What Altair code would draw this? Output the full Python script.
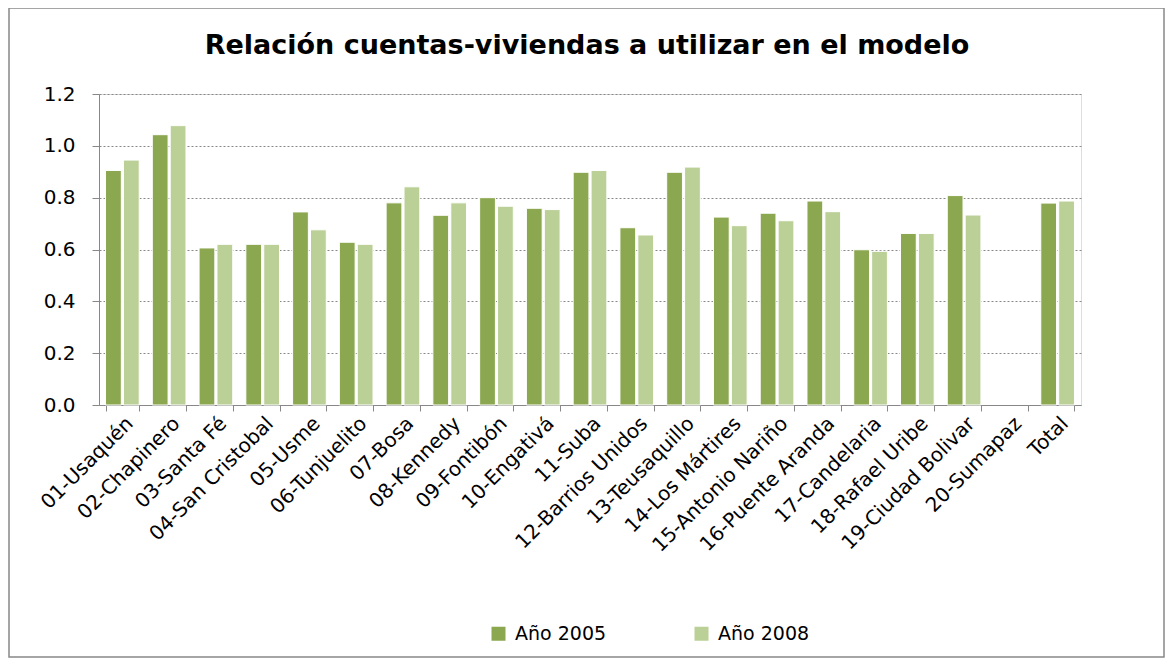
import altair as alt
import pandas as pd

categories = ["01-Usaquén", "02-Chapinero", "03-Santa Fé", "04-San Cristobal", "05-Usme",
              "06-Tunjuelito", "07-Bosa", "08-Kennedy", "09-Fontibón", "10-Engativá",
              "11-Suba", "12-Barrios Unidos", "13-Teusaquillo", "14-Los Mártires",
              "15-Antonio Nariño", "16-Puente Aranda", "17-Candelaria", "18-Rafael Uribe",
              "19-Ciudad Bolivar", "20-Sumapaz", "Total"]
series_names = ["Año 2005", "Año 2008"]
values_2005 = [0.905, 1.043, 0.606, 0.620, 0.745, 0.628, 0.780, 0.732, 0.800, 0.759,
               0.898, 0.684, 0.898, 0.725, 0.740, 0.787, 0.599, 0.662, 0.808, None, 0.779]
values_2008 = [0.945, 1.078, 0.620, 0.620, 0.676, 0.620, 0.842, 0.780, 0.767, 0.754,
               0.905, 0.656, 0.918, 0.692, 0.711, 0.746, 0.593, 0.662, 0.733, None, 0.787]
colors = ["#8ba74f", "#bbd097"]
title_text = "Relación cuentas-viviendas a utilizar en el modelo"

rows = []
for c, a, b in zip(categories, values_2005, values_2008):
    rows.append({"cat": c, "serie": series_names[0], "val": a})
    rows.append({"cat": c, "serie": series_names[1], "val": b})
df = pd.DataFrame(rows)

FONT = "DejaVu Sans"
W, H = 982, 311

bars = alt.Chart(df).mark_bar(stroke="white", strokeWidth=1).encode(
    x=alt.X("cat:N", sort=categories, title=None,
            scale=alt.Scale(paddingInner=0.28, paddingOuter=0.14),
            axis=alt.Axis(labelAngle=-45, labelFontSize=20, labelFont=FONT, labelColor="#000",
                          domainColor="#888", tickColor="#888", tickSize=6, tickBand="extent",
                          labelPadding=2, grid=False, labelLimit=300)),
    xOffset=alt.XOffset("serie:N", sort=series_names, scale=alt.Scale(paddingInner=0.12)),
    y=alt.Y("val:Q", title=None,
            scale=alt.Scale(domain=[0, 1.2], nice=False),
            axis=alt.Axis(values=[0, 0.2, 0.4, 0.6, 0.8, 1.0, 1.2], format=".1f",
                          labelFontSize=20, labelFont=FONT, labelColor="#000",
                          domainColor="#888", tickColor="#888", tickSize=7,
                          gridColor="#888", gridDash=[2, 2], labelPadding=17)),
    color=alt.Color("serie:N", sort=series_names,
                    scale=alt.Scale(domain=series_names, range=colors),
                    legend=alt.Legend(title=None, orient="none", legendX=390, legendY=530,
                                      direction="horizontal", symbolType="square",
                                      symbolSize=196, symbolStrokeWidth=0,
                                      labelFontSize=19, labelFont=FONT, labelColor="#000",
                                      columnPadding=85, labelOffset=7)),
)

border = alt.Chart(pd.DataFrame({"b": [0]})).mark_rect(
    fill=None, stroke="#888", strokeWidth=1.5).encode(
    x=alt.value(-90), x2=alt.value(1065), y=alt.value(-86), y2=alt.value(563))

title = alt.Chart(pd.DataFrame({"t": [title_text]})).mark_text(
    font=FONT, fontSize=27, fontWeight="bold", color="#000",
    align="center", baseline="middle").encode(
    text="t:N", x=alt.value(488), y=alt.value(-48))

chart = alt.layer(border, bars, title).properties(
    width=W, height=H,
    autosize=alt.AutoSizeParams(type="none"),
    padding={"left": 91, "top": 86, "right": 84, "bottom": 253},
).configure_view(stroke=None).configure(background="white")

chart.save("out.html", embed_options={"renderer": "svg", "actions": False})
